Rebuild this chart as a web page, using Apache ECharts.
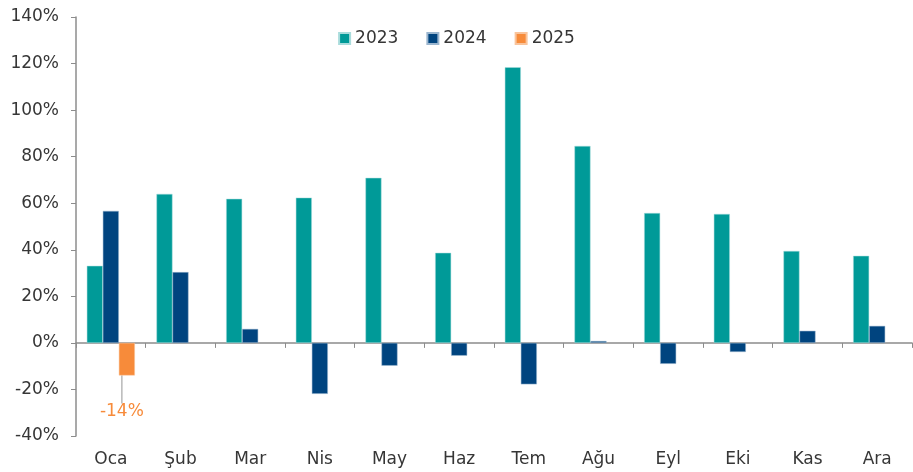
<!DOCTYPE html>
<html><head><meta charset="utf-8">
<script src="https://cdn.jsdelivr.net/npm/echarts@6/dist/echarts.min.js"></script>
<style>html,body{margin:0;padding:0;background:#fff}#c{width:913px;height:472px}</style>
</head><body><div id="c"></div>
<script>
const months = ['Oca','Şub','Mar','Nis','May','Haz','Tem','Ağu','Eyl','Eki','Kas','Ara'];
const y2023 = [33.1, 64, 61.9, 62.4, 70.9, 38.7, 118.4, 84.6, 55.8, 55.4, 39.5, 37.4];
const y2024 = [56.7, 30.4, 6, -21.9, -9.8, -5.5, -17.8, 0.8, -9, -3.9, 5.2, 7.3];
const y2025 = [-14, null, null, null, null, null, null, null, null, null, null, null];
const yTicks = {min: -40, max: 140, interval: 20};

const font = '"DejaVu Sans", sans-serif';
const fw = 'normal';
const txt = '#363636';
const chart = echarts.init(document.getElementById('c'));
chart.setOption({
  animation: false,
  textStyle: {fontFamily: font, fontWeight: fw},
  legend: {
    top: 25, left: 'center', icon: 'rect', itemWidth: 11, itemHeight: 11, itemGap: 28,
    textStyle: {fontSize: 17, color: txt, fontFamily: font, fontWeight: fw},
    data: ['2023','2024','2025']
  },
  grid: {left: 76, right: 1, top: 17, bottom: 36},
  xAxis: {
    type: 'category', data: months,
    axisLine: {onZero: true, lineStyle: {color: '#8c8c8c', width: 1.5}},
    axisTick: {show: true, length: 5, lineStyle: {color: '#8c8c8c'}},
    axisLabel: {fontSize: 17, color: txt, margin: 15, fontFamily: font, fontWeight: fw, interval: 0}
  },
  yAxis: {
    type: 'value', min: yTicks.min, max: yTicks.max, interval: yTicks.interval,
    axisLine: {show: true, lineStyle: {color: '#8c8c8c', width: 1.5}},
    axisTick: {show: true, length: 5, lineStyle: {color: '#8c8c8c'}},
    splitLine: {show: false},
    axisLabel: {fontSize: 17, color: txt, margin: 17, formatter: '{value}%', fontFamily: font, fontWeight: fw}
  },
  series: [
    {name: '2023', type: 'bar', data: y2023, barGap: '0%', barCategoryGap: '31%',
     itemStyle: {color: '#009a98', borderColor: '#a9dcdc', borderWidth: 0.5}},
    {name: '2024', type: 'bar', data: y2024,
     itemStyle: {color: '#00447f', borderColor: '#9bb6cf', borderWidth: 0.5}},
    {name: '2025', type: 'bar', data: y2025,
     itemStyle: {color: '#f78b3a', borderColor: '#f9c49c', borderWidth: 0.5},
     label: {show: true, position: 'bottom', distance: 28, formatter: '{c}%', color: '#f78b3a', fontSize: 17, fontFamily: font, fontWeight: fw},
     labelLine: {show: true, lineStyle: {color: '#b8b8b8', width: 1.5}},
     labelLayout: {dx: -5}
    }
  ]
});
</script></body></html>
